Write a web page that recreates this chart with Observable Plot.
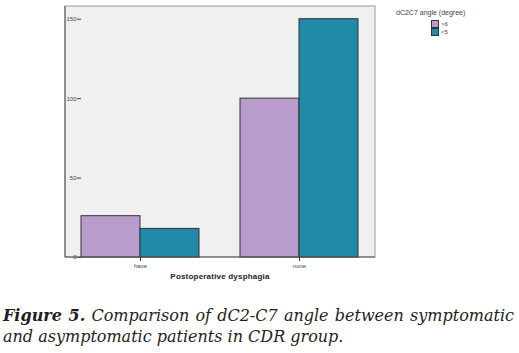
<!DOCTYPE html>
<html><head><meta charset="utf-8">
<script src="https://cdn.jsdelivr.net/npm/d3@7"></script>
<script src="https://cdn.jsdelivr.net/npm/@observablehq/plot@0.6"></script>
<style>
body{margin:0;background:#fff;}
#wrap{position:relative;width:519px;height:353px;font-family:"Liberation Sans",Arial,sans-serif;}
#legend{position:absolute;left:396px;top:9px;font-size:7px;color:#444;}
#legend .items{margin-top:4px;}
#legend .item{display:flex;align-items:center;margin-left:35px;height:8px;font-size:6px;}
#legend .sw{width:6px;height:6px;border:1px solid #333;margin-right:2px;}
#xtitle{position:absolute;left:65px;width:310px;top:272px;text-align:center;font-size:8px;font-weight:bold;color:#222;letter-spacing:0.2px;}
#caption{position:absolute;left:3px;top:305px;width:511px;font-family:"DejaVu Serif",serif;font-style:italic;font-size:16px;line-height:21px;color:#231f20;}
#caption .l1{text-align:justify;text-align-last:justify;white-space:nowrap;}
</style></head>
<body><div id="wrap"><div id="chart"></div>
<div id="legend"><div>dC2C7 angle (degree)</div><div class="items"></div></div>
<div id="xtitle">Postoperative dysphagia</div>
<div id="caption"><div class="l1"><b>Figure 5.</b> Comparison of dC2-C7 angle between symptomatic</div><div>and asymptomatic patients in CDR group.</div></div>
</div>
<script>
const groups = ["have", "none"];
const series = [">6", "<5"];
const valuesGt6 = [26, 100];
const valuesLt5 = [18, 150];
const colors = ["#b89dcc", "#218aa8"];
const yTicks = [0, 50, 100, 150];

const data = [];
groups.forEach((g, i) => {
  data.push({group: g, series: series[0], value: valuesGt6[i]});
  data.push({group: g, series: series[1], value: valuesLt5[i]});
});

const W = 519, H = 285, ml = 65, mr = 144, mt = 6, mb = 28;
const chart = Plot.plot({
  width: W, height: H,
  marginLeft: ml, marginRight: mr, marginTop: mt, marginBottom: mb,
  style: {fontSize: "6px", fontFamily: "Liberation Sans, Arial, sans-serif", color: "#444", background: "transparent"},
  fx: {domain: groups, paddingInner: 0.256, paddingOuter: 0.097, tickSize: 4, label: null, axis: "bottom", tickPadding: 2},
  x: {domain: series, padding: 0, axis: null},
  y: {domain: [0, 158], ticks: yTicks, tickSize: 4, label: null, tickPadding: 1},
  color: {domain: series, range: colors},
  marks: [
    Plot.barY(data, {fx: "group", x: "series", y: "value", fill: "series", stroke: "#333", strokeWidth: 1})
  ]
});
document.getElementById("chart").appendChild(chart);

const svg = d3.select(chart);
svg.insert("rect", ":first-child")
  .attr("x", ml).attr("y", mt).attr("width", W - ml - mr).attr("height", H - mt - mb)
  .attr("fill", "#f0f0f0").attr("stroke", "#999");
svg.append("line").attr("x1", ml).attr("x2", ml).attr("y1", mt).attr("y2", H - mb).attr("stroke", "#555");
svg.append("line").attr("x1", ml).attr("x2", W - mr).attr("y1", H - mb).attr("y2", H - mb).attr("stroke", "#555");

const leg = d3.select("#legend .items");
series.forEach((s, i) => {
  const it = leg.append("div").attr("class", "item");
  it.append("div").attr("class", "sw").style("background", colors[i]);
  it.append("span").text(s);
});
</script></body></html>
